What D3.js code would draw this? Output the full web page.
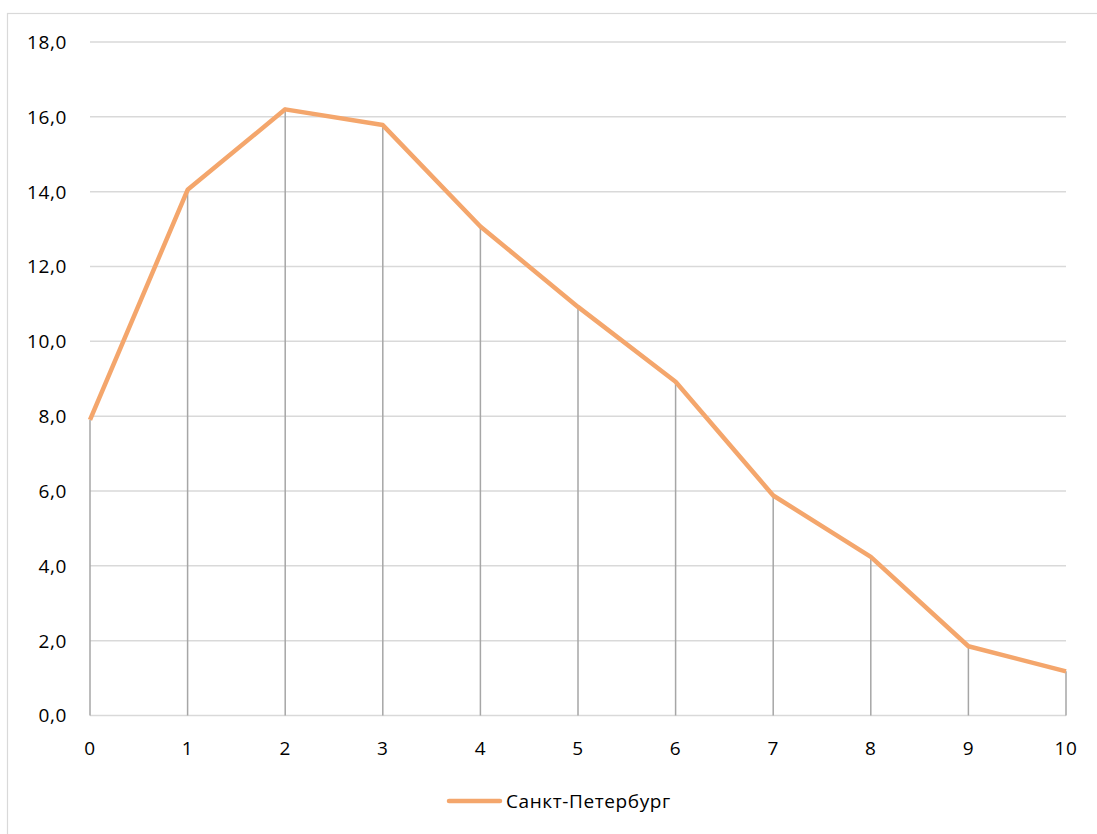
<!DOCTYPE html>
<html><head><meta charset="utf-8">
<script src="https://cdn.jsdelivr.net/npm/d3@7"></script>
<style>body{margin:0;background:#fff}svg{display:block}text{font-family:"Open Sans",sans-serif;fill:#000;letter-spacing:0.6px}</style>
</head><body>
<svg id="c" width="1097" height="834"></svg>
<script>
const categories = [0,1,2,3,4,5,6,7,8,9,10];
const values = [7.9,14.05,16.2,15.78,13.07,10.92,8.92,5.88,4.24,1.85,1.18];
const yTicks = [0,2,4,6,8,10,12,14,16,18];
const seriesName = "Санкт-Петербург";

const svg = d3.select("#c");
svg.append("rect").attr("x",7.5).attr("y",13.5).attr("width",1100).attr("height",830)
  .attr("fill","#fff").attr("stroke","#D9D9D9").attr("stroke-width",1.2);

const x = d3.scaleLinear().domain([0,10]).range([90,1066]);
const y = d3.scaleLinear().domain([0,18]).range([715.5,42]);

// grid
svg.append("g").selectAll("line").data(yTicks).join("line")
  .attr("x1",x(0)).attr("x2",x(10)).attr("y1",d=>y(d)).attr("y2",d=>y(d))
  .attr("stroke","#D9D9D9").attr("stroke-width",1.5);

// y labels
const fmt = d => d3.format(".1f")(d).replace(".",",");
svg.append("g").selectAll("text").data(yTicks).join("text")
  .attr("x",67).attr("y",d=>y(d)).attr("dy","0.36em").attr("text-anchor","end")
  .attr("font-size",19).text(fmt);

// x labels
svg.append("g").selectAll("text").data(categories).join("text")
  .attr("x",d=>x(d)).attr("y",748).attr("dy","0.36em").attr("text-anchor","middle")
  .attr("font-size",19).text(d=>d);

// drop lines
svg.append("g").selectAll("line").data(categories).join("line")
  .attr("x1",d=>x(d)).attr("x2",d=>x(d)).attr("y1",(d,i)=>y(values[i])).attr("y2",y(0))
  .attr("stroke","#A6A6A6").attr("stroke-width",1.5);

// line
const line = d3.line().x((d,i)=>x(categories[i])).y(d=>y(d));
svg.append("path").datum(values).attr("d",line).attr("fill","none")
  .attr("stroke","#F4A66C").attr("stroke-width",4.5).attr("stroke-linejoin","round");

// legend
svg.append("line").attr("x1",449).attr("x2",500).attr("y1",801).attr("y2",801)
  .attr("stroke","#F4A66C").attr("stroke-width",4.5).attr("stroke-linecap","round");
svg.append("text").attr("x",506).attr("y",801).attr("dy","0.36em").attr("font-size",19).text(seriesName);
</script>
</body></html>
